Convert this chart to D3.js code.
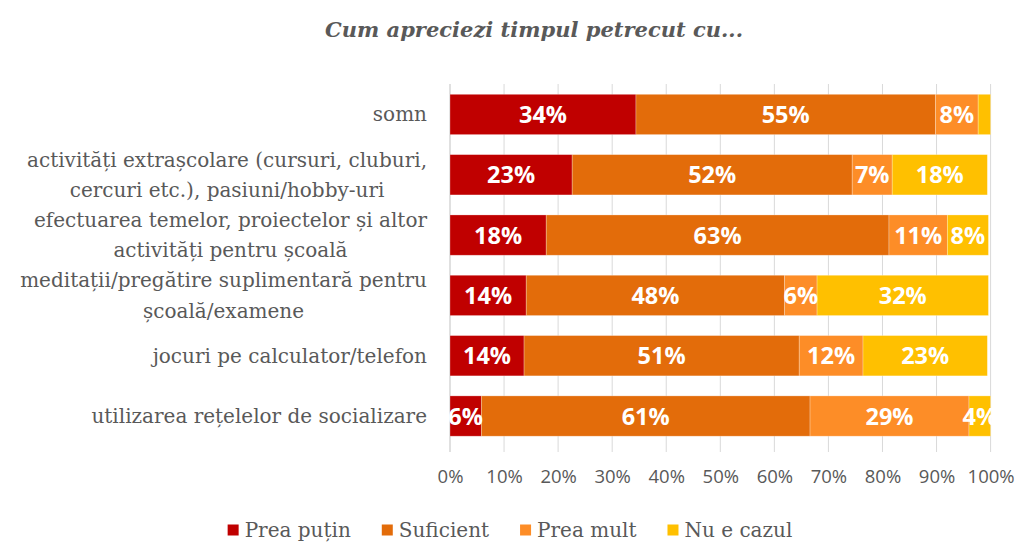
<!DOCTYPE html>
<html>
<head>
<meta charset="utf-8">
<script src="https://cdn.jsdelivr.net/npm/d3@7"></script>
<style>
  html, body { margin: 0; padding: 0; background: #fff; }
  svg { display: block; }
</style>
</head>
<body>
<svg id="chart" width="1018" height="543"></svg>
<script>
const title = "Cum apreciezi timpul petrecut cu...";
const categories = [
  "somn",
  "activități extrașcolare (cursuri, cluburi,\ncercuri etc.), pasiuni/hobby-uri",
  "efectuarea temelor, proiectelor și altor\nactivități pentru școală",
  "meditații/pregătire suplimentară pentru\nșcoală/examene",
  "jocuri pe calculator/telefon",
  "utilizarea rețelelor de socializare"
];
const seriesNames = ["Prea puțin", "Suficient", "Prea mult", "Nu e cazul"];
const preaPutin = [34.4, 22.6, 17.8, 14.1, 13.7, 5.8];
const suficient = [55.4, 51.8, 63.4, 47.8, 50.9, 60.8];
const preaMult  = [7.9, 7.4, 10.8, 6.0, 11.8, 29.4];
const nuECazul  = [2.3, 17.6, 7.6, 31.7, 23.0, 4.0];
const tickValues = [0, 10, 20, 30, 40, 50, 60, 70, 80, 90, 100];
const colors = ["#C00000", "#E36C0A", "#FD8D27", "#FFC000"];

const seriesValues = [preaPutin, suficient, preaMult, nuECazul];
const rows = categories.map((c, i) => {
  const r = { cat: c };
  seriesNames.forEach((s, j) => r[s] = seriesValues[j][i]);
  return r;
});
const stacked = d3.stack().keys(seriesNames)(rows);

const svg = d3.select("#chart");
const textGray = "#595959";
const serif = "'DejaVu Serif', serif";
const sans = "'Open Sans', sans-serif";

const x = d3.scaleLinear().domain([0, 100]).range([450, 990.6]);
const y = d3.scaleBand().domain(categories).range([84.3, 446.2])
  .paddingInner(0.332).paddingOuter(0.166);

const gridTop = 84, gridBottom = 452;

// gridlines
svg.append("g").selectAll("line").data(tickValues.slice(1)).join("line")
  .attr("x1", d => x(d)).attr("x2", d => x(d))
  .attr("y1", gridTop).attr("y2", gridBottom)
  .attr("stroke", "#D9D9D9").attr("stroke-width", 1);

// axis line
svg.append("line")
  .attr("x1", x(0)).attr("x2", x(0)).attr("y1", gridTop).attr("y2", gridBottom)
  .attr("stroke", "#D0D0D0").attr("stroke-width", 1.3);

// bars
const layer = svg.append("g").selectAll("g").data(stacked).join("g")
  .attr("fill", (d, i) => colors[i]);
layer.selectAll("rect").data(d => d).join("rect")
  .attr("x", d => x(d[0]))
  .attr("width", d => x(d[1]) - x(d[0]))
  .attr("y", d => y(d.data.cat))
  .attr("height", y.bandwidth())
  .attr("stroke", "#ffffff").attr("stroke-opacity", 0.35).attr("stroke-width", 0.75);

// data labels
svg.append("g").selectAll("g").data(stacked).join("g")
  .selectAll("text").data(d => d.filter(v => (v[1] - v[0]) >= 3)).join("text")
  .attr("x", d => (x(d[0]) + x(d[1])) / 2)
  .attr("y", d => y(d.data.cat) + y.bandwidth() / 2)
  .attr("text-anchor", "middle")
  .attr("dy", "0.36em")
  .attr("fill", "#ffffff")
  .attr("font-family", sans)
  .attr("font-weight", 700)
  .attr("font-size", 23.5)
  .text(d => Math.round(d[1] - d[0]) + "%");

// x tick labels
const xAxis = d3.axisBottom(x).tickValues(tickValues).tickSize(0).tickPadding(0)
  .tickFormat(d => d + "%");
const gx = svg.append("g").attr("transform", `translate(0, 470)`).call(xAxis);
gx.select(".domain").remove();
gx.selectAll("text")
  .attr("font-family", sans).attr("font-size", 18.5).attr("fill", textGray)
  .attr("dy", "0.71em");

// category labels (block right-aligned, lines centred within block)
const lineH = 30.5;
const labelRight = 427;
const gy = svg.append("g");
categories.forEach(c => {
  const lines = c.split("\n");
  const cy = y(c) + y.bandwidth() / 2;
  const t = gy.append("text")
    .attr("text-anchor", "middle")
    .attr("font-family", serif).attr("font-size", 20).attr("fill", textGray);
  const spans = lines.map((ln, k) => t.append("tspan")
      .attr("y", cy + (k - (lines.length - 1) / 2) * lineH)
      .attr("dy", "0.35em")
      .text(ln));
  const maxW = d3.max(spans, s => s.node().getComputedTextLength());
  spans.forEach(s => s.attr("x", labelRight - maxW / 2));
});

// title
svg.append("text")
  .attr("x", 534).attr("y", 30).attr("dy", "0.35em")
  .attr("text-anchor", "middle")
  .attr("font-family", serif).attr("font-style", "italic").attr("font-weight", 700)
  .attr("font-size", 21).attr("fill", textGray)
  .text(title);

// legend
const legend = svg.append("g");
const sq = 11, gapSq = 6, gapItem = 31;
let cx = 0;
seriesNames.forEach((s, i) => {
  const g = legend.append("g");
  g.append("rect").attr("x", 0).attr("y", -sq / 2).attr("width", sq).attr("height", sq)
    .attr("fill", colors[i]);
  const t = g.append("text").attr("x", sq + gapSq).attr("dy", "0.35em")
    .attr("font-family", serif).attr("font-size", 20).attr("fill", textGray).text(s);
  const w = sq + gapSq + t.node().getComputedTextLength();
  g.attr("transform", `translate(${cx}, 0)`);
  cx += w + gapItem;
});
const totalW = cx - gapItem;
legend.attr("transform", `translate(${510 - totalW / 2}, 530)`);
</script>
</body>
</html>
